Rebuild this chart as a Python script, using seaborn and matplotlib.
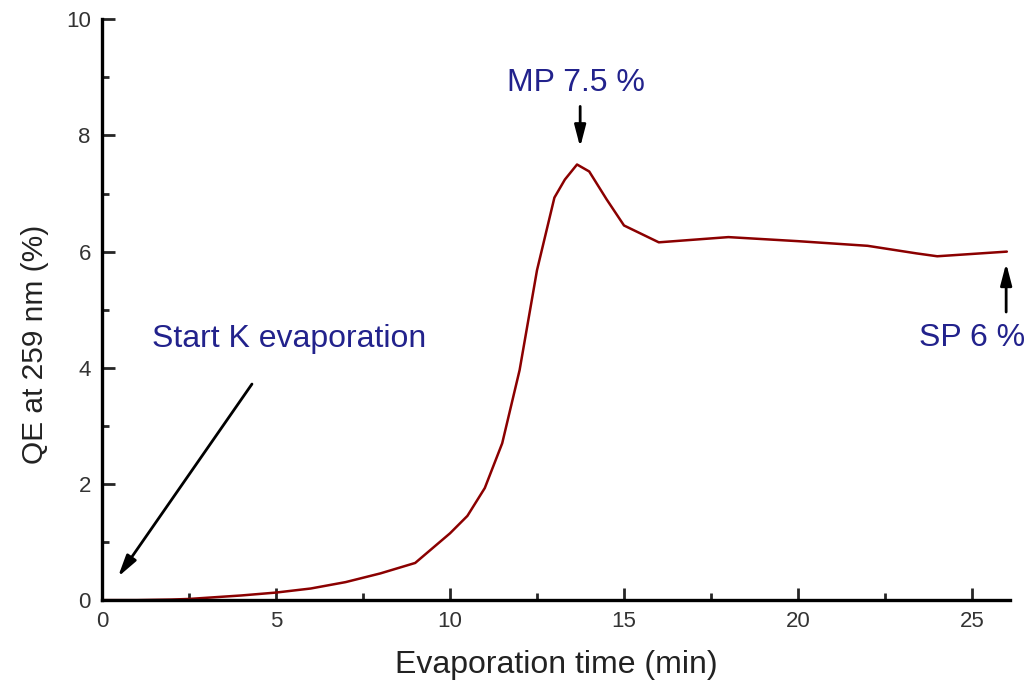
import numpy as np
import pandas as pd
import matplotlib
matplotlib.use('Agg')
import matplotlib.pyplot as plt
import seaborn as sns

# values
time_min = [0, 1, 2, 2.5, 3, 4, 5, 6, 7, 8, 9, 10, 10.5, 11, 11.5, 12, 12.5,
            13, 13.3, 13.65, 14.0, 14.5, 15, 16, 18, 20, 21.5, 22, 23.4, 24, 26]
qe_pct = [0, 0, 0.01, 0.02, 0.04, 0.08, 0.13, 0.2, 0.31, 0.46, 0.64, 1.15, 1.45,
          1.93, 2.7, 3.96, 5.68, 6.93, 7.24, 7.5, 7.38, 6.9, 6.45, 6.16, 6.25,
          6.18, 6.12, 6.1, 5.97, 5.92, 6.0]

df = pd.DataFrame({'time': time_min, 'qe': qe_pct})

sns.set_style('ticks')
plt.rcParams['font.family'] = ['Liberation Sans', 'DejaVu Sans']

fig = plt.figure(figsize=(10.32, 6.89), dpi=100)
ax = fig.add_axes([0.0988, 0.129, 0.8802, 0.843])

sns.lineplot(data=df, x='time', y='qe', color='#8b0000', linewidth=1.8, ax=ax)

ax.set_xlim(0, 26.1)
ax.set_ylim(0, 10)
ax.set_xticks([0, 5, 10, 15, 20, 25])
ax.set_yticks([0, 2, 4, 6, 8, 10])
ax.set_xticks(np.arange(2.5, 26, 5), minor=True)
ax.set_yticks(np.arange(1, 10, 2), minor=True)
ax.tick_params(which='major', direction='in', length=9, width=2, labelsize=16,
               labelcolor='#333333', pad=8)
ax.tick_params(which='minor', direction='in', length=5, width=2)
sns.despine(ax=ax)
for s in ['left', 'bottom']:
    ax.spines[s].set_linewidth(2.4)
    ax.spines[s].set_color('black')

ax.set_xlabel('Evaporation time (min)', fontsize=23, color='#222222', labelpad=13)
ax.set_ylabel('QE at 259 nm (%)', fontsize=21.5, color='#222222', labelpad=12)
ax.yaxis.label.set_y(0.44)

navy = '#22228c'
arrow = dict(arrowstyle='-|>,head_length=0.65,head_width=0.17', color='black',
             lw=2, mutation_scale=20, shrinkA=0, shrinkB=0)

ax.annotate('', xy=(0.46, 0.4), xytext=(4.31, 3.72), arrowprops=arrow)
ax.text(1.44, 4.5, 'Start K evaporation', fontsize=23, color=navy, ha='left', va='center')

ax.annotate('', xy=(13.74, 7.8), xytext=(13.74, 8.5), arrowprops=arrow)
ax.text(13.62, 8.9, 'MP 7.5 %', fontsize=23, color=navy, ha='center', va='center')

ax.annotate('', xy=(25.98, 5.8), xytext=(25.98, 4.96), arrowprops=arrow)
ax.text(26.52, 4.51, 'SP 6 %', fontsize=23, color=navy, ha='right', va='center',
        clip_on=False)

fig.savefig('out.png', dpi=100)
